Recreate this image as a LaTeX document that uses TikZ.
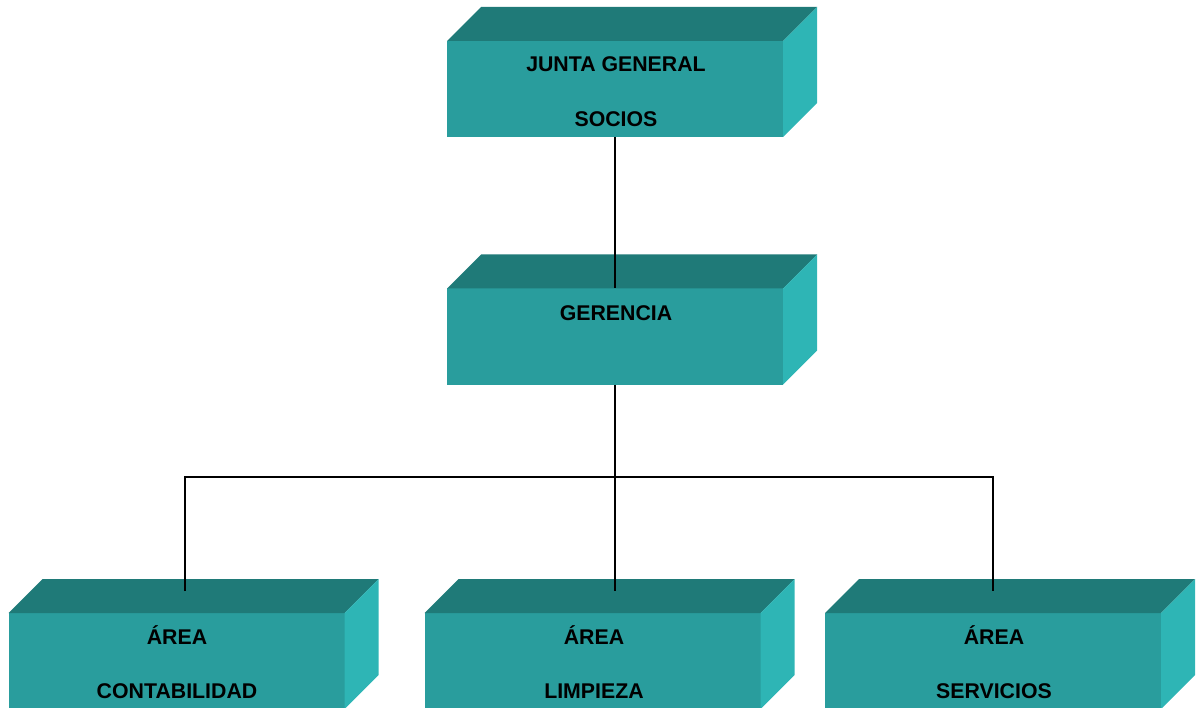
\documentclass[tikz,border=0pt]{standalone}
\usepackage{fontspec}
\setmainfont{Liberation Sans}
\definecolor{cubetop}{RGB}{31,122,120}
\definecolor{cubefront}{RGB}{41,157,157}
\definecolor{cubeside}{RGB}{46,181,181}
\tikzset{
  cube/.style={rectangle, fill=cubefront, minimum width=336pt, minimum height=96pt,
               inner sep=0pt, outer sep=0pt},
  lbl/.style={font=\bfseries\fontsize{21.3}{25}\selectfont, anchor=base, inner sep=0pt},
  link/.style={line width=1.7pt, black},
}
% top and right faces of a box drawn behind a front-face node
\newcommand\cubefaces[1]{%
  \fill[cubetop] (#1.north west) -- ++(34,-34) -- ([shift={(34,-34)}]#1.north east)
     -- (#1.north east) -- cycle;
  \fill[cubeside] (#1.north east) -- ++(34,-34) -- ([shift={(34,-34)}]#1.south east)
     -- (#1.south east) -- cycle;
}
\begin{document}
\begin{tikzpicture}[x=1pt, y=-1pt]
  \useasboundingbox (0,0) rectangle (1198,708);

  % front faces
  \node[cube] (junta)    at (615,89)    {};
  \node[cube] (gerencia) at (615,336.5) {};
  \node[cube] (contab)   at (176.5,661) {};
  \node[cube] (limpieza) at (592.5,661) {};
  \node[cube] (servicios) at (993,661)  {};

  \cubefaces{junta}
  \cubefaces{gerencia}
  \cubefaces{contab}
  \cubefaces{limpieza}
  \cubefaces{servicios}

  % labels
  \node[lbl] (t1) at (616,72)  {JUNTA GENERAL};
  \node[lbl] (t2) at (616,127) {SOCIOS};
  \node[lbl] (t3) at (616,320) {GERENCIA};
  \node[lbl] (t4) at (177,644) {ÁREA};
  \node[lbl] (t5) at (177,698) {CONTABILIDAD};
  \node[lbl] (t6) at (594,644) {ÁREA};
  \node[lbl] (t7) at (594,698) {LIMPIEZA};
  \node[lbl] (t8) at (994,644) {ÁREA};
  \node[lbl] (t9) at (994,698) {SERVICIOS};

  % connectors
  \coordinate (bus)  at (615,477);
  \coordinate (busL) at (185,477);
  \coordinate (busR) at (993,477);
  \coordinate (endL) at (185,591);
  \coordinate (endM) at (615,591);
  \coordinate (endR) at (993,591);

  \draw[link] (junta.south) -- (gerencia.north);
  \draw[link] (gerencia.south) -- (bus);
  \draw[link] (endL) -- (busL) -- (busR) -- (endR);
  \draw[link] (bus) -- (endM);
\end{tikzpicture}
\end{document}
